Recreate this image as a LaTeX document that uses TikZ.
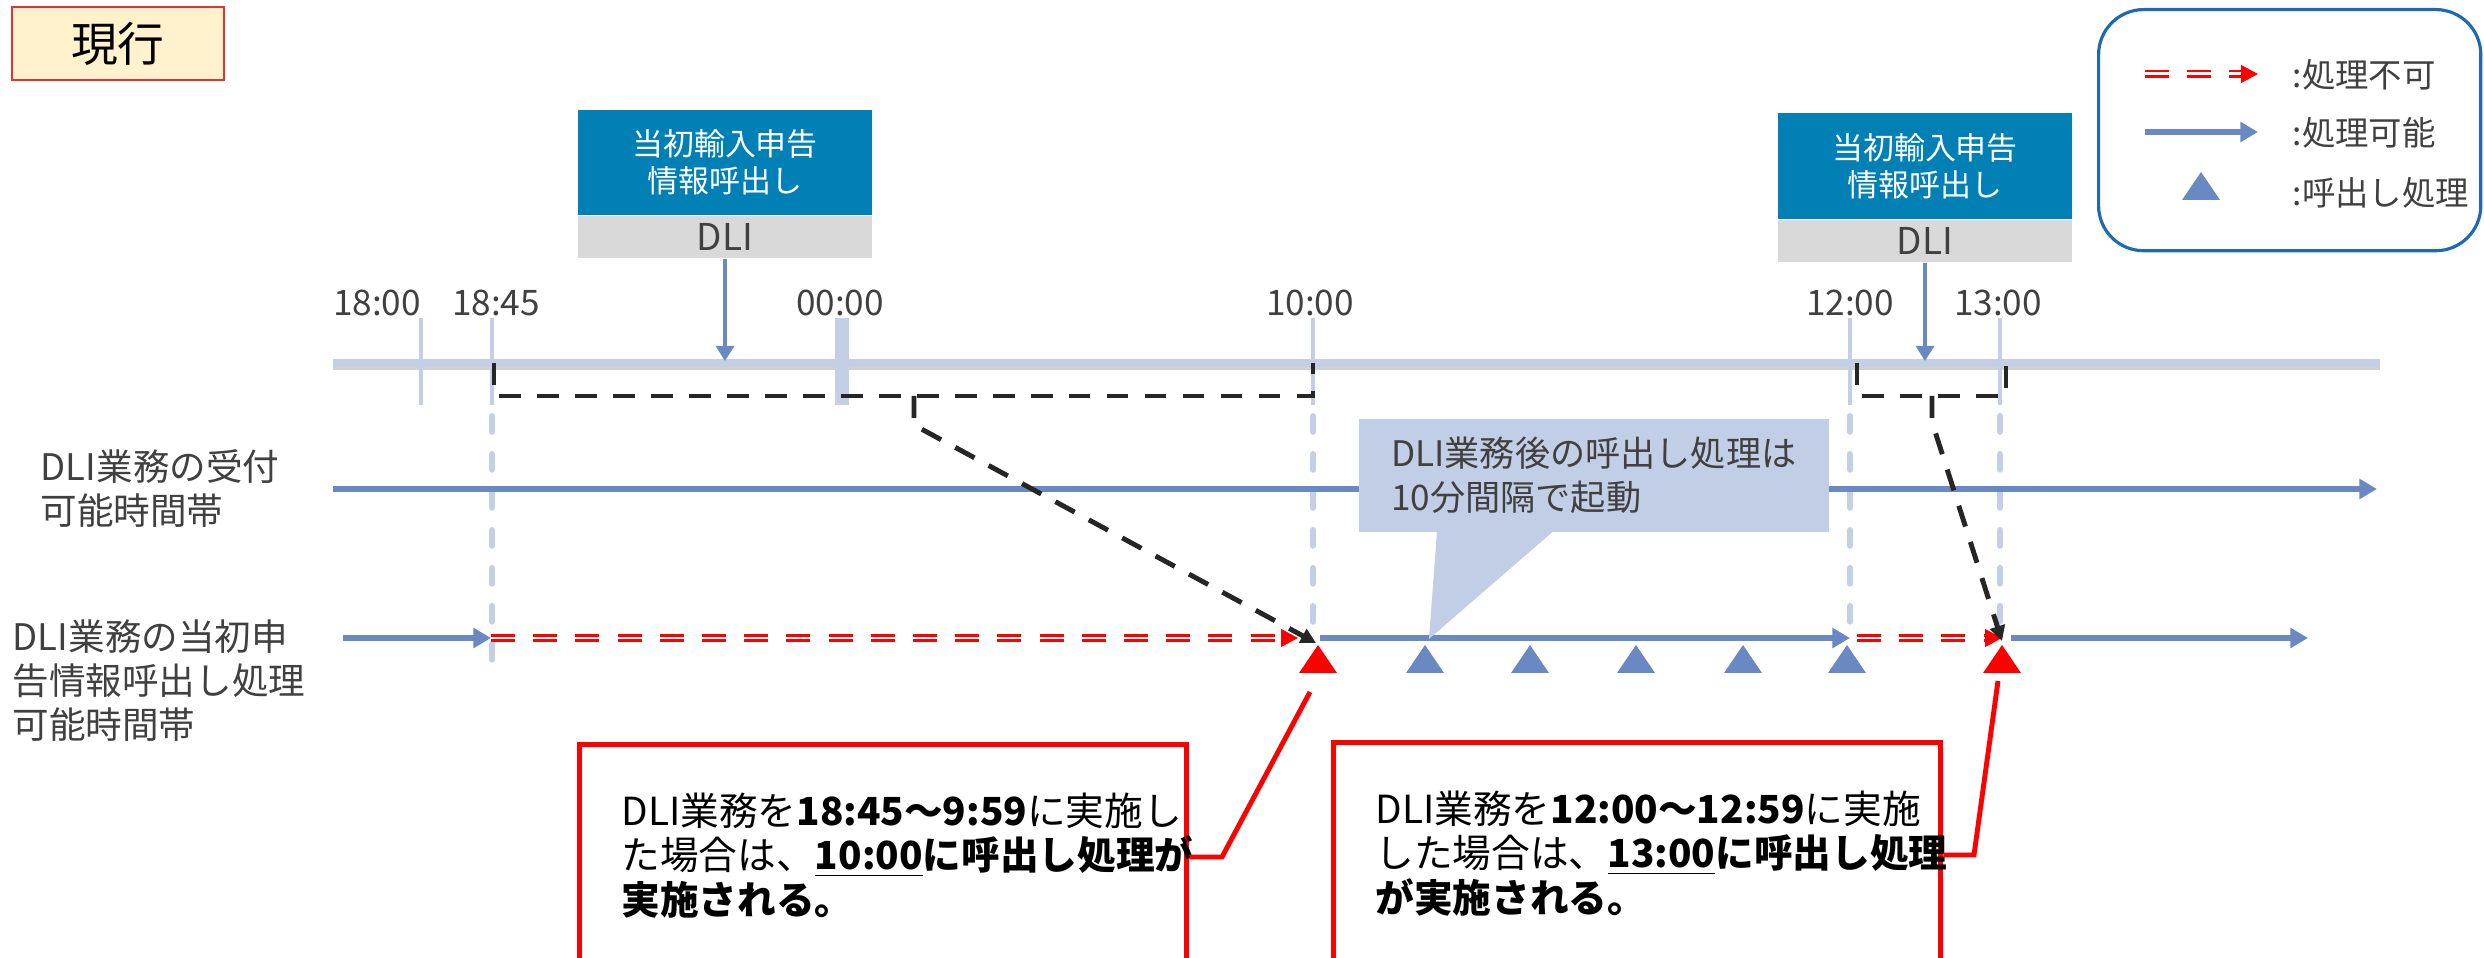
\documentclass[tikz,border=0pt]{standalone}
\usepackage{fontspec}
\setmainfont{Noto Sans CJK JP}
\usetikzlibrary{positioning,arrows.meta,calc}

\definecolor{tlgray}{RGB}{196,207,230}
\definecolor{okblue}{RGB}{106,136,194}
\definecolor{dliblue}{RGB}{0,128,180}
\definecolor{dligray}{RGB}{217,217,217}
\definecolor{txtgray}{RGB}{64,64,64}
\definecolor{hdrfill}{RGB}{255,242,204}
\definecolor{hdrred}{RGB}{222,52,52}
\definecolor{legblue}{RGB}{30,105,175}
\definecolor{notefill}{RGB}{194,206,229}

\begin{document}
\begin{tikzpicture}[x=0.01cm,y=-0.01cm,
  lbl/.style={text=txtgray,font=\fontsize{10.4pt}{12.5pt}\selectfont,align=left,anchor=west,inner sep=0pt},
  hhmm/.style={text=txtgray,font=\fontsize{10pt}{12pt}\selectfont,inner sep=0pt},
  legtxt/.style={text=txtgray,font=\fontsize{9.5pt}{10pt}\selectfont,anchor=west,inner sep=0pt},
  callbox/.style={fill=dliblue,text=white,minimum width=2.94cm,minimum height=1.05cm,align=center,inner sep=0pt,font=\fontsize{8.8pt}{10.5pt}\selectfont},
  dlibox/.style={fill=dligray,text=txtgray,minimum width=2.94cm,minimum height=0.42cm,inner sep=0pt,font=\fontsize{10.5pt}{12pt}\selectfont},
  axis/.style={draw=tlgray,line width=2pt},
  tmark/.style={draw=tlgray,line width=1.3pt},
  guide/.style={draw=tlgray,line width=1.7pt,line cap=round,dash pattern=on 4.5pt off 6.3pt},
  okline/.style={draw=okblue,line width=1.6pt,-{Triangle[length=5pt,width=5.5pt]}},
  dliarrow/.style={draw=okblue,line width=1.15pt,-{Triangle[length=4.3pt,width=5.1pt]}},
  ngline/.style={draw=red,double=white,line width=0.6pt,double distance=0.85pt,dash pattern=on 6.8pt off 5.2pt},
  ngtip/.style={draw=red,line width=0.6pt,-{Triangle[length=4.8pt,width=5pt]}},
  bracket/.style={draw=black!85,line width=1.4pt,dash pattern=on 6.2pt off 4.6pt},
  callflow/.style={bracket,-{Triangle[length=4.3pt,width=4.3pt]}},
  notebox/.style={fill=notefill,text=txtgray,anchor=north west,minimum width=4.70cm,minimum height=1.13cm,inner sep=0pt,align=left,font=\fontsize{10pt}{12.5pt}\selectfont},
  casebox/.style={draw=red,line width=1.4pt,anchor=north west,text width=5.23cm,inner xsep=0.42cm,inner ysep=0pt,minimum height=2.22cm,align=left,font=\fontsize{11pt}{12.7pt}\selectfont},
  redline/.style={draw=red,line width=1.4pt},
  pics/calltri/.style={code={\fill[#1] (-19,28) -- (0,0) -- (19,28) -- cycle;}}
]
\useasboundingbox (0,0) rectangle (2484,958);

\node[draw=hdrred,fill=hdrfill,line width=0.6pt,minimum width=2.12cm,minimum height=0.73cm,font=\fontsize{13.3pt}{15pt}\selectfont] (genko) at (118,43.5) {現行};

\draw[black!18,line width=1.6pt] (333,367) -- (2380,367);
\draw[axis] (333,363) -- (2380,363);
\draw[tmark] (421,318) -- (421,405);
\draw[tmark,line width=4.2pt] (842,318) -- (842,405);
\foreach \x/\yb in {492/662,1313/640,1850/640,2000/640}{
  \draw[tmark] (\x,318) -- (\x,405);
  \draw[guide] (\x,416) -- (\x,\yb);
}
\node[hhmm] (h1800) at (377,303) {18:00};
\node[hhmm] (h1845) at (496,303) {18:45};
\node[hhmm] (h0000) at (840,303) {00:00};
\node[hhmm] (h1000) at (1310,303) {10:00};
\node[hhmm] (h1200) at (1850,303) {12:00};
\node[hhmm] (h1300) at (1998,303) {13:00};

\node[callbox] (call1) at (725,162.5) {当初輸入申告\\情報呼出し};
\node[dlibox,below=0pt of call1] (dli1) {DLI};
\node[callbox] (call2) at (1925,166) {当初輸入申告\\情報呼出し};
\node[dlibox,below=0pt of call2] (dli2) {DLI};
\coordinate (hit1) at (725,361);
\coordinate (hit2) at (1925,361);
\draw[dliarrow] (dli1.south) -- (hit1);
\draw[dliarrow] (dli2.south) -- (hit2);

\node[lbl] (row1) at (40,489) {DLI業務の受付\\可能時間帯};
\node[lbl] (row2) at (12,681) {DLI業務の当初申\\告情報呼出し処理\\可能時間帯};

\coordinate (r1s) at (333,489);
\coordinate (r1e) at (2377,489);
\draw[okline] (r1s) -- (r1e);

\coordinate (r2s) at (343,638);
\coordinate (r2a) at (491,638);
\coordinate (r2b) at (1298,638);
\coordinate (r2c) at (1320,638);
\coordinate (r2d) at (1850,638);
\coordinate (r2e) at (1857,638);
\coordinate (r2f) at (2002,638);
\coordinate (r2g) at (2011,638);
\coordinate (r2h) at (2308,638);
\draw[okline] (r2s) -- (r2a);
\draw[ngline] (r2a) -- ($(r2b)+(-14,0)$);
\draw[ngtip] ($(r2b)+(-16,0)$) -- (r2b);
\draw[okline] (r2c) -- (r2d);
\draw[ngline] (r2e) -- ($(r2f)+(-14,0)$);
\draw[ngtip] ($(r2f)+(-16,0)$) -- (r2f);
\draw[okline] (r2g) -- (r2h);

\foreach \x in {1425,1530,1636,1743,1847}
  \pic at (\x,645) {calltri=okblue};
\pic at (1318,645) {calltri=red};
\pic at (2002,645) {calltri=red};

\node[notebox] (note) at (1358,418) {DLI業務後の呼出し処理は\\10分間隔で起動};
\coordinate (ptr) at (1429,639);
\fill[notefill] ($(note.south west)+(79,-1)$) -- (ptr) -- ($(note.south west)+(195,-1)$) -- cycle;

\draw[bracket] (494,363) -- (494,396) -- (1313,396) -- (1313,363);
\draw[callflow] (914,396) -- (914,425) -- (1316,643);
\draw[bracket] (1857,363) -- (1857,396) -- (2006,396) -- (2006,363);
\draw[callflow] (1932,396) -- (1932,422) -- (2002,641);

\node[casebox] (caseA) at (577,742) {DLI業務を\textbf{18:45〜9:59}に実施し\\た場合は、\underline{\textbf{10:00}}\textbf{に呼出し処理が}\\\textbf{実施される。}};
\node[casebox] (caseB) at (1331,740) {DLI業務を\textbf{12:00〜12:59}に実施\\した場合は、\underline{\textbf{13:00}}\textbf{に呼出し処理}\\\textbf{が実施される。}};
\coordinate (kA) at (1222,857);
\coordinate (pA) at (1310,692);
\coordinate (kB) at (1974,855);
\coordinate (pB) at (1998,681);
\draw[redline] (caseA.east |- kA) -- (kA) -- (pA);
\draw[redline] (caseB.east |- kB) -- (kB) -- (pB);

\node[draw=legblue,line width=0.9pt,rounded corners=0.45cm,minimum width=3.82cm,minimum height=2.41cm,anchor=north west] (legend) at (2097,8) {};
\coordinate (lg1a) at (2145,74);
\coordinate (lg1b) at (2258,74);
\coordinate (lg2a) at (2145,132);
\coordinate (lg2b) at (2258,132);
\draw[ngline] (lg1a) -- ($(lg1b)+(-14,0)$);
\draw[ngtip] ($(lg1b)+(-16,0)$) -- (lg1b);
\draw[okline] (lg2a) -- (lg2b);
\pic at (2201,172) {calltri=okblue};
\node[legtxt] (lgt1) at (2292,75) {:処理不可};
\node[legtxt] (lgt2) at (2292,133) {:処理可能};
\node[legtxt] (lgt3) at (2292,193) {:呼出し処理};
\end{tikzpicture}
\end{document}
